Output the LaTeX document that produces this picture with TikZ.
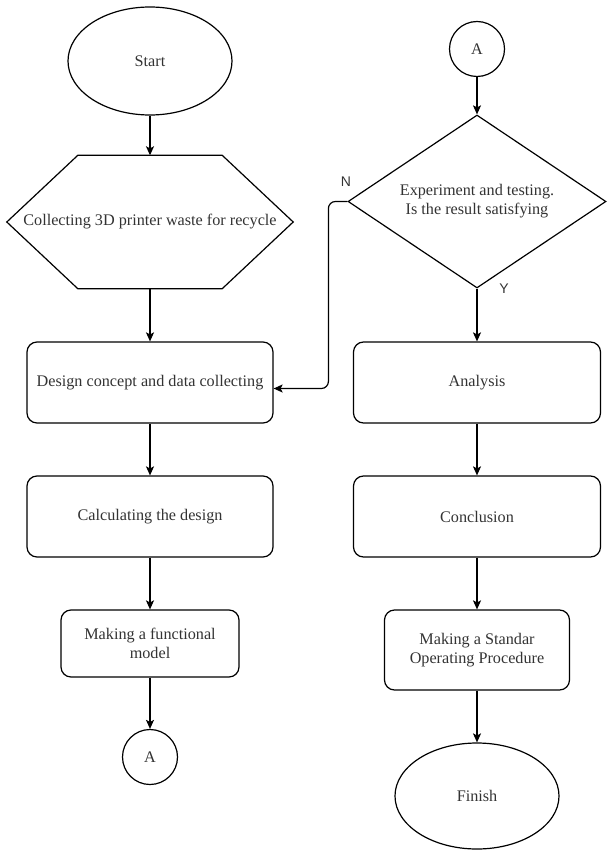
\documentclass[tikz,border=0pt]{standalone}
\usepackage{fontspec}
\setmainfont{Liberation Serif}
\newfontfamily\labelfont{Liberation Sans}
\usetikzlibrary{shapes.geometric,arrows.meta,calc}

\tikzset{
  box/.style={draw, line width=1.2pt, rounded corners=10pt, inner sep=0pt,
              align=center, text=black!80},
  terminal/.style={draw, ellipse, line width=1.2pt, inner sep=0pt,
                   minimum width=164pt, text=black!80},
  joint/.style={draw, circle, line width=1.2pt, minimum size=55pt,
                inner sep=0pt, text=black!80},
  flow/.style={line width=1.2pt, -{Stealth[length=9pt,width=8pt,inset=2pt]}},
  answer/.style={font=\labelfont\fontsize{14}{16}\selectfont, text=black!80}
}

\begin{document}
\begin{tikzpicture}[x=1pt, y=-1pt, font=\fontsize{16.2}{19}\selectfont]
  \useasboundingbox (0,0) rectangle (606,850);

  \node[terminal, minimum height=108pt] (start) at (150,61) {Start};
  \node[inner sep=0pt, minimum width=286pt, minimum height=133pt,
        text=black!80] (collect) at (150,222)
        {Collecting 3D printer waste for recycle};
  \draw[line width=1.2pt]
    (collect.west) -- ($(collect.north west)+(71,0)$)
    -- ($(collect.north east)+(-71,0)$) -- (collect.east)
    -- ($(collect.south east)+(-71,0)$)
    -- ($(collect.south west)+(71,0)$) -- cycle;
  \node[box, minimum width=246pt, minimum height=81pt] (design) at (150,382.5)
        {Design concept and data collecting};
  \node[box, minimum width=246pt, minimum height=81pt] (calc) at (150,516.5)
        {Calculating the design};
  \node[box, minimum width=178pt, minimum height=67pt] (model) at (150,643.5)
        {Making a functional\\model};
  \node[joint] (linkA) at (150,757) {A};

  \node[joint] (linkB) at (477,49) {A};
  \node[draw, diamond, line width=1.2pt, inner sep=0pt, aspect=1.5,
        minimum width=258pt, minimum height=173pt, align=center,
        text=black!80] (test) at (477,201.5)
        {Experiment and testing.\\Is the result satisfying};
  \node[box, minimum width=247pt, minimum height=81pt] (analysis) at (477,382.5)
        {Analysis};
  \node[box, minimum width=247pt, minimum height=81pt] (concl) at (477,516.5)
        {Conclusion};
  \node[box, minimum width=185pt, minimum height=80pt] (sop) at (477,650)
        {Making a Standar\\Operating Procedure};
  \node[terminal, minimum height=106pt] (finish) at (477,796) {Finish};

  \node[answer] (no) at (346,182) {N};
  \node[answer] (yes) at (504,289) {Y};

  \draw[flow] (start.south) -- (collect.north);
  \draw[flow] (collect.south) -- (design.north);
  \draw[flow] (design) -- (calc);
  \draw[flow] (calc) -- (model);
  \draw[flow] (model) -- (linkA);
  \draw[flow] (linkB) -- (test.north);
  \draw[flow] (test.south) -- (analysis.north);
  \draw[flow] (analysis) -- (concl);
  \draw[flow] (concl) -- (sop);
  \draw[flow] (sop) -- (finish);
  \draw[flow, rounded corners=7pt]
    (test.west) -- ++(-19,0) |- ([yshift=-6pt]design.east);
\end{tikzpicture}
\end{document}
